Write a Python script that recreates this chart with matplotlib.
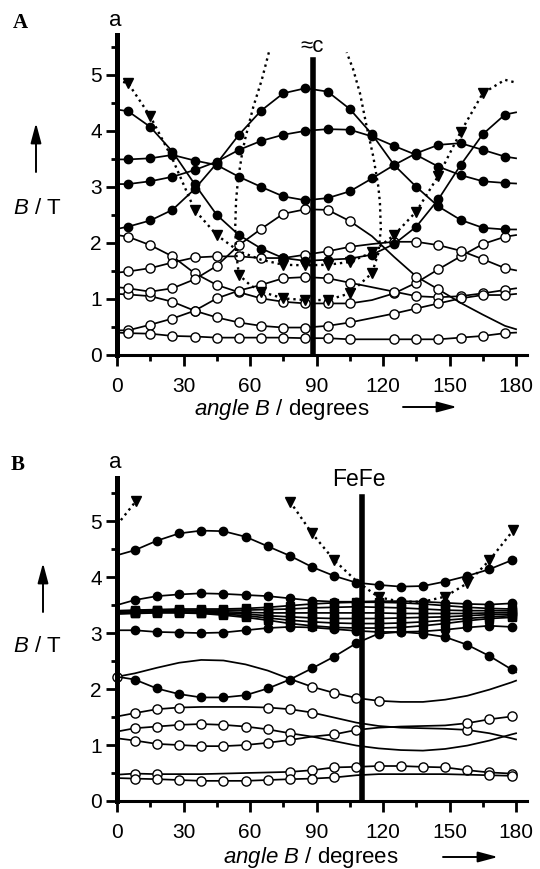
import numpy as np
import matplotlib
matplotlib.use("Agg")
import matplotlib.pyplot as plt

plt.rcParams['font.family'] = ['Liberation Sans', 'DejaVu Sans']
plt.rcParams['mathtext.fontset'] = 'custom'
plt.rcParams['mathtext.rm'] = 'Liberation Sans'
plt.rcParams['mathtext.it'] = 'Liberation Sans:italic'

# ---------------- panel A data ----------------
angles_a = [0, 5, 15, 25, 35, 45, 55, 65, 75, 85, 95, 105, 115, 125, 135, 145, 155, 165, 175, 180]

fa1 = [2.25, 2.29, 2.40, 2.59, 2.96, 3.42, 3.93, 4.36, 4.67, 4.76, 4.70, 4.39, 3.94, 3.39, 3.00, 2.65, 2.41, 2.27, 2.24, 2.24]
fa2 = [4.38, 4.35, 4.07, 3.63, 3.05, 2.50, 2.14, 1.90, 1.73, 1.68, 1.70, 1.72, 1.79, 1.98, 2.29, 2.78, 3.39, 3.94, 4.29, 4.33]
fa3 = [3.49, 3.49, 3.51, 3.57, 3.47, 3.39, 3.18, 3.00, 2.83, 2.76, 2.80, 2.92, 3.15, 3.39, 3.60, 3.75, 3.78, 3.66, 3.54, 3.51]
fa4 = [3.05, 3.05, 3.10, 3.18, 3.30, 3.45, 3.66, 3.82, 3.93, 4.00, 4.03, 4.02, 3.90, 3.73, 3.57, 3.36, 3.21, 3.10, 3.07, 3.06]

ta1 = [4.90, 4.85, 4.26, 3.50, 2.59, 2.14, 1.85, 1.70, 1.61, 1.60, 1.61, 1.66, 1.83, 2.14, 2.56, 3.20, 3.98, 4.67, 4.91, 4.86]
ta1_marks = [1, 2, 4, 5, 8, 9, 10, 11, 12, 13, 14, 15, 16, 17]

# looping resonance (dotted)
loop_ang = [68.5, 65.3, 61.5, 57.7, 56.2, 54.5, 53.7, 53.3, 53.8, 55.0, 60.0, 65.0, 75.0, 85.0,
            95.0, 105.0, 115.0, 117.9, 119.0, 118.6, 117.9, 115.6, 112.5, 109.6, 106.5, 103.6]
loop_b = [5.40, 4.91, 4.43, 3.84, 3.54, 3.10, 2.75, 2.25, 1.80, 1.43, 1.25, 1.13, 1.01, 0.98,
          0.98, 1.10, 1.46, 1.82, 2.25, 2.71, 3.00, 3.54, 4.10, 4.67, 5.10, 5.40]
loop_marks = [9, 11, 12, 13, 14, 15, 16]

oa1 = [2.14, 2.11, 1.96, 1.76, 1.46, 1.25, 1.12, 1.01, 0.95, 0.92, 0.92, 0.92, 0.98, 1.10, 1.29, 1.53, 1.76, 1.98, 2.11, 2.14]
oa2 = [1.47, 1.49, 1.55, 1.65, 1.74, 1.76, 1.76, 1.73, 1.73, 1.79, 1.85, 1.93, 1.98, 2.02, 2.02, 1.96, 1.86, 1.71, 1.55, 1.51]
oa3 = [1.21, 1.19, 1.13, 1.19, 1.35, 1.59, 1.96, 2.25, 2.52, 2.60, 2.59, 2.39, 2.12, 1.75, 1.40, 1.17, 0.93, 0.72, 0.52, 0.46]
oa4 = [0.44, 0.44, 0.54, 0.65, 0.79, 1.01, 1.15, 1.25, 1.37, 1.39, 1.37, 1.29, 1.21, 1.13, 1.05, 1.03, 1.05, 1.10, 1.16, 1.19]
oa5 = [1.09, 1.08, 1.05, 0.95, 0.79, 0.67, 0.58, 0.52, 0.49, 0.49, 0.52, 0.58, 0.66, 0.74, 0.83, 0.92, 1.01, 1.07, 1.07, 1.09]
oa6 = [0.40, 0.39, 0.38, 0.34, 0.33, 0.31, 0.31, 0.31, 0.31, 0.30, 0.30, 0.28, 0.28, 0.28, 0.28, 0.28, 0.31, 0.34, 0.39, 0.40]
oa_marks = [1, 2, 3, 4, 5, 6, 7, 8, 9, 10, 11, 13, 14, 15, 16, 17, 18]
oa3_marks = [1, 2, 3, 4, 5, 6, 7, 8, 9, 10, 11, 14, 15]

# ---------------- panel B data ----------------
angles_b = [0, 8, 18, 28, 38, 48, 58, 68, 78, 88, 98, 108, 118, 128, 138, 148, 158, 168, 178, 180]

fb1 = [4.39, 4.48, 4.65, 4.78, 4.83, 4.82, 4.72, 4.55, 4.38, 4.18, 4.02, 3.90, 3.86, 3.83, 3.84, 3.92, 4.02, 4.14, 4.30, 4.33]
fb2 = [2.22, 2.17, 2.01, 1.91, 1.85, 1.85, 1.89, 2.01, 2.17, 2.37, 2.58, 2.82, 2.99, 3.02, 2.99, 2.93, 2.79, 2.59, 2.35, 2.30]
fb3 = [3.50, 3.59, 3.66, 3.69, 3.71, 3.70, 3.68, 3.66, 3.62, 3.58, 3.56, 3.56, 3.57, 3.57, 3.56, 3.54, 3.52, 3.51, 3.53, 3.54]
fb4 = [3.05, 3.05, 3.02, 3.01, 3.00, 3.01, 3.05, 3.09, 3.11, 3.10, 3.07, 3.04, 3.02, 3.02, 3.03, 3.06, 3.10, 3.13, 3.11, 3.10]

sq1 = [3.40, 3.41, 3.42, 3.43, 3.43, 3.43, 3.44, 3.46, 3.49, 3.52, 3.54, 3.55, 3.55, 3.54, 3.52, 3.49, 3.46, 3.44, 3.43, 3.43]
sq2 = [3.39, 3.40, 3.41, 3.41, 3.41, 3.41, 3.41, 3.42, 3.43, 3.45, 3.46, 3.47, 3.46, 3.45, 3.43, 3.41, 3.40, 3.40, 3.40, 3.40]
sq3 = [3.37, 3.38, 3.39, 3.40, 3.39, 3.38, 3.37, 3.36, 3.36, 3.36, 3.36, 3.36, 3.36, 3.35, 3.35, 3.35, 3.35, 3.36, 3.37, 3.37]
sq4 = [3.36, 3.37, 3.38, 3.38, 3.37, 3.36, 3.34, 3.31, 3.29, 3.27, 3.26, 3.26, 3.26, 3.27, 3.28, 3.29, 3.31, 3.33, 3.34, 3.34]
sq5 = [3.35, 3.36, 3.37, 3.37, 3.36, 3.34, 3.31, 3.27, 3.23, 3.20, 3.18, 3.17, 3.17, 3.18, 3.20, 3.23, 3.26, 3.29, 3.31, 3.31]
sq6 = [3.34, 3.35, 3.36, 3.36, 3.35, 3.32, 3.28, 3.23, 3.17, 3.13, 3.10, 3.09, 3.09, 3.10, 3.13, 3.17, 3.22, 3.26, 3.28, 3.28]

tb1_ang = [0, 8.6]
tb1 = [4.93, 5.36]
tb2_ang = [78, 88, 98, 108, 118, 128, 138, 148, 158, 168, 178.8]
tb2 = [5.35, 4.78, 4.30, 3.93, 3.64, 3.56, 3.56, 3.65, 3.89, 4.30, 4.84]
tb2_marks = [0, 1, 2, 4, 7, 8, 9, 10]

ob1 = [2.22, 2.28, 2.38, 2.47, 2.52, 2.51, 2.44, 2.33, 2.18, 2.04, 1.93, 1.84, 1.79, 1.77, 1.77, 1.81, 1.88, 1.99, 2.12, 2.15]
ob2 = [1.51, 1.57, 1.64, 1.67, 1.68, 1.68, 1.68, 1.67, 1.64, 1.58, 1.49, 1.40, 1.34, 1.31, 1.30, 1.29, 1.27, 1.21, 1.12, 1.10]
ob3 = [1.24, 1.30, 1.33, 1.36, 1.375, 1.36, 1.33, 1.28, 1.21, 1.15, 1.07, 0.99, 0.94, 0.91, 0.90, 0.93, 0.99, 1.08, 1.19, 1.21]
ob4 = [1.12, 1.08, 1.02, 1.00, 0.98, 0.98, 1.00, 1.04, 1.09, 1.15, 1.19, 1.27, 1.31, 1.33, 1.34, 1.35, 1.39, 1.46, 1.51, 1.52]
ob5 = [0.47, 0.49, 0.48, 0.48, 0.48, 0.49, 0.50, 0.51, 0.52, 0.55, 0.60, 0.61, 0.625, 0.625, 0.61, 0.60, 0.55, 0.51, 0.49, 0.48]
ob6 = [0.41, 0.40, 0.39, 0.375, 0.36, 0.36, 0.36, 0.375, 0.39, 0.40, 0.42, 0.46, 0.48, 0.48, 0.48, 0.48, 0.47, 0.46, 0.45, 0.44]
ob1_marks = [0, 9, 10, 11, 12]
ob2_marks = [1, 2, 3, 7, 8, 9, 16]
ob3_marks = [1, 2, 3, 4, 5, 6, 7, 8]
ob4_marks = [1, 2, 3, 4, 5, 6, 7, 8, 10, 11, 16, 17, 18]
ob5_marks = [1, 2, 8, 9, 10, 11, 12, 13, 14, 15, 16, 17, 18]
ob6_marks = [1, 2, 3, 4, 5, 6, 7, 8, 9, 10, 17, 18]

all_marks = list(range(1, 19))

W, H = 540, 869


def fx(x):
    return x / W


def fy(y):
    return 1 - y / H


def curve(ax, x, y, mk=None, idx=None, ls='-', face='k', ms=6.0, lw=1.25):
    ax.plot(x, y, color='k', lw=lw, ls=ls, marker=mk, markevery=idx,
            mfc=face, mec='k', ms=ms, mew=1.0, clip_on=False)


def style_axes(ax, ytop):
    ax.set_xlim(0, 184.8)
    ax.set_ylim(0, ytop)
    ax.set_xticks(range(0, 181, 30))
    ax.set_xticks(range(15, 181, 30), minor=True)
    ax.set_yticks(range(0, 6))
    ax.set_yticks(np.arange(0.5, 5.6, 1.0), minor=True)
    for s in ['top', 'right']:
        ax.spines[s].set_visible(False)
    ax.spines['left'].set_linewidth(3.6)
    ax.spines['bottom'].set_linewidth(2.2)
    ax.tick_params(axis='both', which='major', direction='out', length=8, width=2, labelsize=15)
    ax.tick_params(axis='both', which='minor', direction='out', length=4, width=2)
    ax.tick_params(axis='x', which='major', pad=8)
    ax.tick_params(axis='y', which='major', pad=3)


fig = plt.figure(figsize=(5.4, 8.69), dpi=100)

# ---------------- panel A ----------------
axA = fig.add_axes([fx(117), fy(355), fx(526.7) - fx(117), fy(35) - fy(355)])
style_axes(axA, 5.71)
axA.axvline(88.5, ymax=(355 - 60) / 320, color='k', lw=4)

for s in [oa1, oa2, oa4, oa5, oa6]:
    curve(axA, angles_a, s, 'o', oa_marks, face='white', ms=6.6)
curve(axA, angles_a, oa3, 'o', oa3_marks, face='white', ms=6.6)
curve(axA, angles_a, ta1, 'v', ta1_marks, ls=':', ms=7, lw=1.7)
curve(axA, loop_ang, loop_b, 'v', loop_marks, ls=':', ms=7, lw=1.7)
for s in [fa1, fa2, fa3, fa4]:
    curve(axA, angles_a, s, 'o', all_marks)

# ---------------- panel B ----------------
axB = fig.add_axes([fx(117), fy(801), fx(526.7) - fx(117), fy(478) - fy(801)])
style_axes(axB, 5.77)
axB.axvline(110.5, ymax=(801 - 497) / 323, color='k', lw=4)

curve(axB, angles_b, ob1, 'o', ob1_marks, face='white', ms=6.6)
curve(axB, angles_b, ob2, 'o', ob2_marks, face='white', ms=6.6)
curve(axB, angles_b, ob3, 'o', ob3_marks, face='white', ms=6.6)
curve(axB, angles_b, ob4, 'o', ob4_marks, face='white', ms=6.6)
curve(axB, angles_b, ob5, 'o', ob5_marks, face='white', ms=6.6)
curve(axB, angles_b, ob6, 'o', ob6_marks, face='white', ms=6.6)
for s in [sq1, sq2, sq3, sq4, sq5, sq6]:
    curve(axB, angles_b, s, 's', all_marks, ms=5.6)
for s in [fb1, fb2, fb3, fb4]:
    curve(axB, angles_b, s, 'o', all_marks)
curve(axB, tb1_ang, tb1, 'v', [1], ls=':', ms=7, lw=1.7)
curve(axB, tb2_ang, tb2, 'v', tb2_marks, ls=':', ms=7, lw=1.7)

# ---------------- annotations ----------------
fig.text(fx(20), fy(23), 'A', family='Liberation Serif', weight='bold', fontsize=15, ha='center', va='center')
fig.text(fx(18), fy(465), 'B', family='Liberation Serif', weight='bold', fontsize=15, ha='center', va='center')
fig.text(fx(115), fy(20), 'a', fontsize=16, ha='center', va='center')
fig.text(fx(115), fy(463), 'a', fontsize=16, ha='center', va='center')
fig.text(fx(311.7), fy(46.7), '\u2248c', fontsize=16, ha='center', va='center')
fig.text(fx(359), fy(480), 'FeFe', fontsize=16.5, ha='center', va='center')

fig.text(fx(37.5), fy(208), r'$B$ / T', fontsize=16, ha='center', va='center')
fig.text(fx(37.5), fy(647), r'$B$ / T', fontsize=16, ha='center', va='center')
fig.text(fx(282), fy(410), r'$angle\ B$ / degrees', fontsize=16, ha='center', va='center')
fig.text(fx(311), fy(857), r'$angle\ B$ / degrees', fontsize=16, ha='center', va='center')

arrow = dict(arrowstyle='-|>,head_length=0.75,head_width=0.2', color='k', lw=1.4,
             mutation_scale=16, shrinkA=0, shrinkB=0)
for (x0, y0, x1, y1) in [(36, 172, 36, 123), (43, 612, 43, 563),
                         (403, 407, 457, 407), (443, 857, 498, 857)]:
    axA.annotate('', xy=(fx(x1), fy(y1)), xytext=(fx(x0), fy(y0)),
                 xycoords='figure fraction', textcoords='figure fraction',
                 arrowprops=arrow, annotation_clip=False)

fig.savefig('out.png', dpi=100)
